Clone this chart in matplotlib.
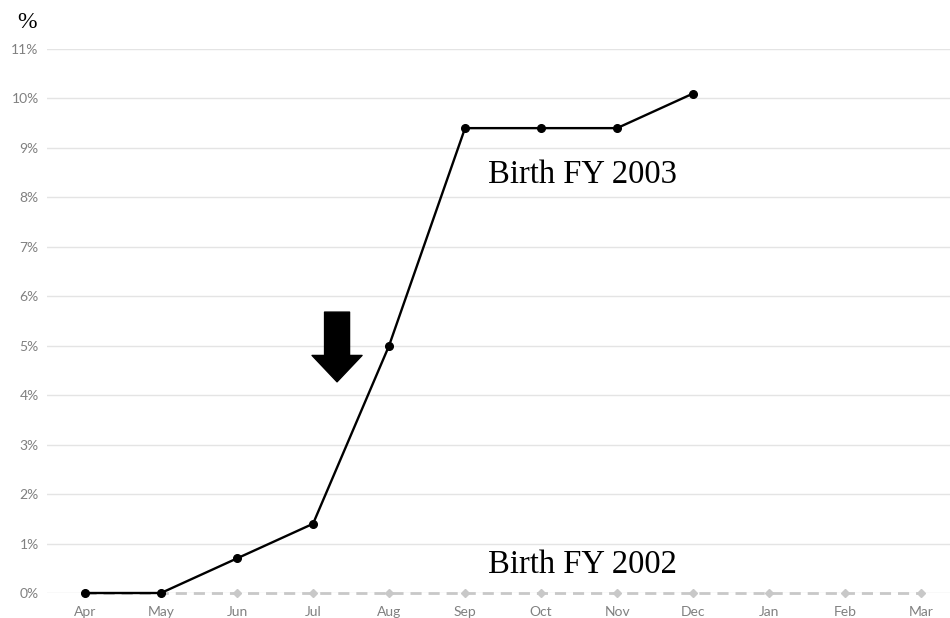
import matplotlib.pyplot as plt

MONTHS = ["Apr", "May", "Jun", "Jul", "Aug", "Sep",
          "Oct", "Nov", "Dec", "Jan", "Feb", "Mar"]
FY2003 = [0.0, 0.0, 0.7, 1.4, 5.0, 9.4, 9.4, 9.4, 10.1]
FY2002 = [0.0] * 12
Y_TICKS = list(range(0, 12))

GRID, TICK, LATE, EARLY = "#e4e4e4", "#808080", "#000000", "#c8c8c8"

fig = plt.figure(figsize=(9.5, 6.18), dpi=100)
ax = fig.add_axes([47 / 950, 25 / 618, 903 / 950, 544 / 618])

xs = range(len(MONTHS))
ax.plot(xs, FY2002, color=EARLY, lw=2, ls=(0, (4, 2.5)), marker="D",
        ms=4, zorder=3, clip_on=False)
ax.plot(range(len(FY2003)), FY2003, color=LATE, lw=1.7, marker="o",
        ms=5.5, zorder=4, clip_on=False)

ax.set_xlim(-0.5, 11.38)
ax.set_ylim(0, 11)
ax.set_yticks(Y_TICKS, [f"{v}%" for v in Y_TICKS])
ax.set_xticks(list(xs), MONTHS)
ax.tick_params(length=0, colors=TICK, labelsize=10)
ax.tick_params(axis="x", pad=9)
ax.tick_params(axis="y", pad=6)
for lab in ax.get_xticklabels() + ax.get_yticklabels():
    lab.set_family("Lato")
ax.grid(axis="y", color=GRID, lw=1, zorder=0)
for s in ax.spines.values():
    s.set_visible(False)

ax.text(5.3, 8.45, "Birth FY 2003", fontsize=23.5, family="Liberation Serif",
        va="center", ha="left")
ax.text(5.3, 0.57, "Birth FY 2002", fontsize=23.5, family="Liberation Serif",
        va="center", ha="left")
fig.text(17 / 950, 1 - 22 / 618, "%", fontsize=17, family="Liberation Serif",
         va="center", ha="left")

ax.annotate("", xy=(3.316, 4.27), xytext=(3.316, 5.68),
            arrowprops=dict(arrowstyle="simple,head_length=1.9,head_width=3.6,tail_width=1.8",
                            color="black", shrinkA=0, shrinkB=0))

fig.savefig("out.png", dpi=100, facecolor="white")
